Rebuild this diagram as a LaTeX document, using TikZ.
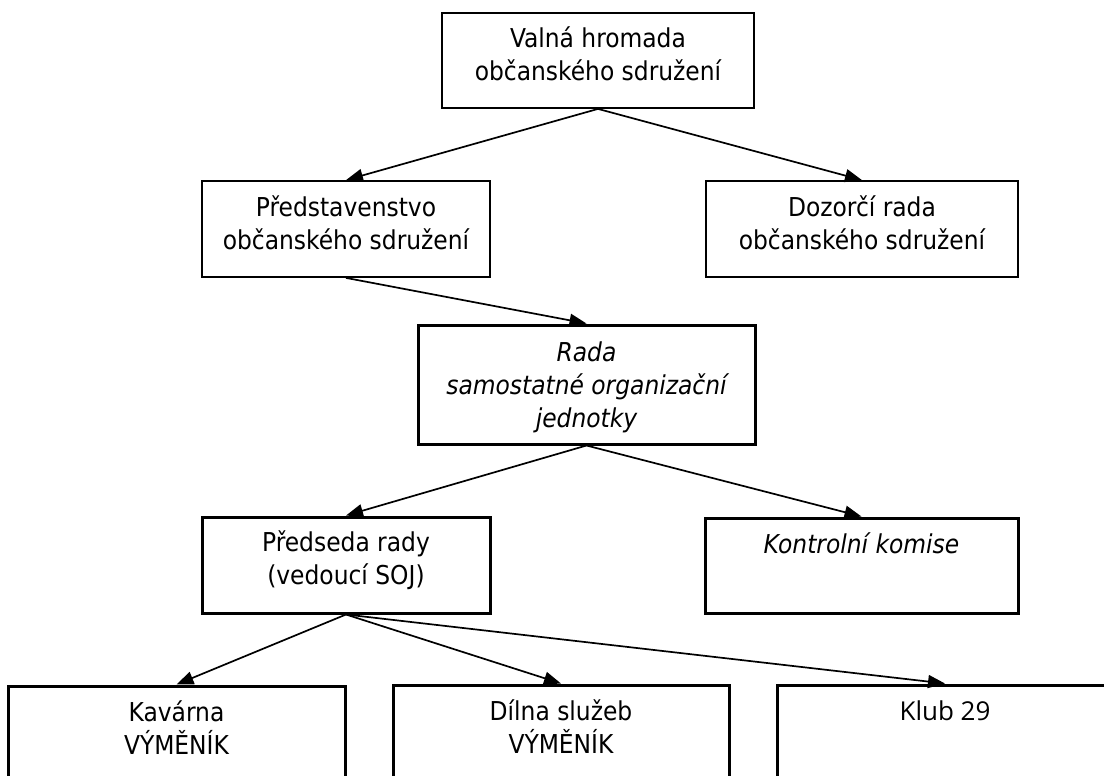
\documentclass[tikz,border=0pt]{standalone}
\usepackage{fontspec}
\setmainfont{DejaVu Sans Condensed}[ItalicFont={DejaVu Sans Condensed Oblique}]
\newfontfamily\klubfont{Open Sans}
\usetikzlibrary{arrows.meta}
\begin{document}
\begin{tikzpicture}[x=1pt,y=-1pt,
  box/.style={draw, rectangle, inner sep=0pt},
  thinbox/.style={box, line width=1.8pt},
  thickbox/.style={box, line width=3pt},
  txt/.style={anchor=north, align=center, inner sep=0pt,
    font={\fontsize{26}{33}\selectfont\lineskiplimit=-100pt}},
  conn/.style={-{Triangle[length=17pt,width=13pt]}, line width=1.7pt}]
\useasboundingbox (0,0) rectangle (1104,776);
\clip (0,0) rectangle (1104,776);

% boxes
\node[thinbox, minimum width=312pt, minimum height=95pt] (vh) at (598,60.5) {};
\node[thinbox, minimum width=288pt, minimum height=96pt] (pr) at (346,229) {};
\node[thinbox, minimum width=312pt, minimum height=96pt] (dr) at (862,229) {};
\node[thickbox, minimum width=337pt, minimum height=119pt] (rada) at (586.5,384.5) {};
\node[thickbox, minimum width=288pt, minimum height=96pt] (pred) at (346,565) {};
\node[thickbox, minimum width=313pt, minimum height=95pt] (kk) at (861.5,565.5) {};
\node[thickbox, minimum width=337pt, minimum height=120pt] (kav) at (176.5,746) {};
\node[thickbox, minimum width=336pt, minimum height=120pt] (dil) at (561,745) {};
\node[thickbox, minimum width=336pt, minimum height=120pt] (klub) at (945,745) {};

% texts
\node[txt] (tvh) at ([yshift=-11.9pt]vh.north) {\strut Valná hromada\\občanského sdružení};
\node[txt] (tpr) at ([yshift=-12.9pt]pr.north) {\strut Představenstvo\\občanského sdružení};
\node[txt] (tdr) at ([yshift=-12.9pt]dr.north) {\strut Dozorčí rada\\občanského sdružení};
\node[txt] (trada) at ([yshift=-14.9pt]rada.north) {\itshape\strut Rada\\\itshape samostatné organizační\\\itshape jednotky};
\node[txt] (tpred) at ([yshift=-12.9pt]pred.north) {\strut Předseda rady\\(vedoucí SOJ)};
\node[txt] (tkk) at ([yshift=-13.9pt]kk.north) {\itshape\strut Kontrolní komise};
\node[txt] (tkav) at ([yshift=-13.9pt]kav.north) {\strut Kavárna\\VÝMĚNÍK};
\node[txt] (tdil) at ([yshift=-13.9pt]dil.north) {\strut Dílna služeb\\VÝMĚNÍK};
\node[txt] (tklub) at ([yshift=-13.9pt]klub.north) {\klubfont\strut Klub 29};

% connectors
\draw[conn] (vh.south) -- (pr.north);
\draw[conn] (vh.south) -- (dr.north);
\draw[conn] (pr.south) -- (rada.north);
\draw[conn] (rada.south) -- (pred.north);
\draw[conn] (rada.south) -- (kk.north);
\draw[conn] (pred.south) -- (kav.north);
\draw[conn] (pred.south) -- (dil.north);
\draw[conn] (pred.south) -- (klub.north);
\end{tikzpicture}
\end{document}
